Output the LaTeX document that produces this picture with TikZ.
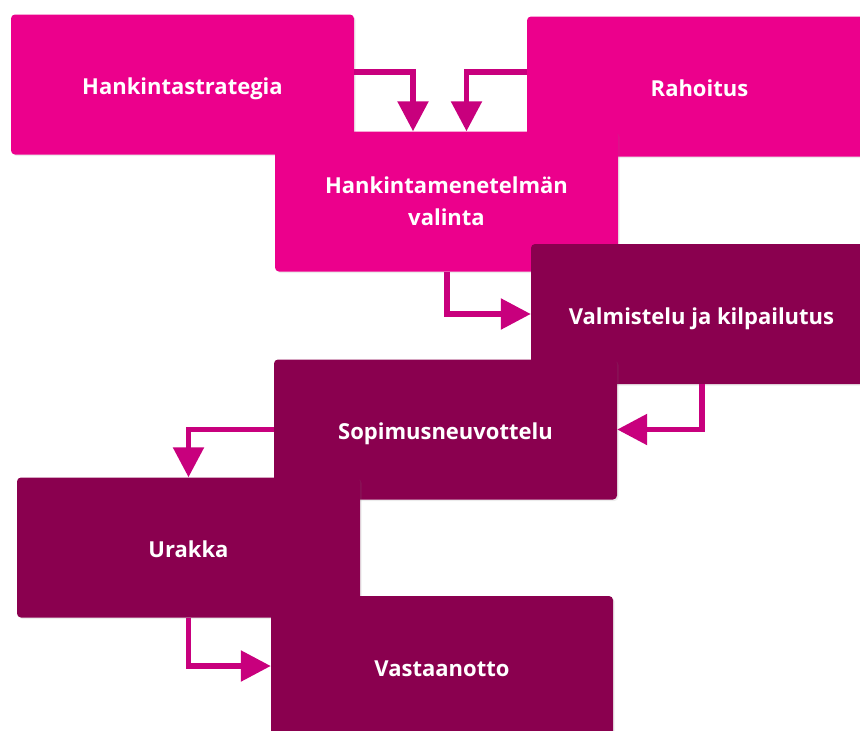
\documentclass[tikz,border=0pt]{standalone}
\usepackage{fontspec}
\setmainfont{Open Sans}
\usetikzlibrary{arrows.meta,shadows}
\definecolor{pinkbox}{HTML}{EC008C}
\definecolor{plumbox}{HTML}{8A004F}
\definecolor{arrowpink}{HTML}{C8007D}

\begin{document}
\begin{tikzpicture}[
  x=1pt, y=-1pt,
  font=\fontsize{22}{32}\selectfont\bfseries,
  box/.style={rounded corners=4pt, text=white, align=center, minimum height=140pt, drop shadow={opacity=0.15, shadow xshift=1.5pt, shadow yshift=-1.5pt}},
  oneline/.style={text height=21pt, text depth=1pt},
  light/.style={box, fill=pinkbox},
  dark/.style={box, fill=plumbox},
  arrow/.style={draw=arrowpink, line width=5.5pt, -{Triangle[width=30pt, length=30pt]}}
]
\useasboundingbox (0,0) rectangle (860,731);
\clip (0,0) rectangle (860,731);

% Planning
\node[light, oneline, minimum width=343pt] (strategia) at (182.5,84.5) {Hankintastrategia};
\node[light, oneline, minimum width=345pt] (rahoitus) at (699.5,86.5) {Rahoitus};
\node[light, minimum width=343pt] (valinta) at (446.5,201.5) {Hankintamenetelmän\\valinta};

% Procurement
\node[dark, oneline, minimum width=341pt] (valmistelu) at (701.5,314) {Valmistelu ja kilpailutus};
\node[dark, oneline, minimum width=343pt] (sopimus) at (445.5,429.5) {Sopimusneuvottelu};
\node[dark, oneline, minimum width=343pt] (urakka) at (188.5,547.5) {Urakka};
\node[dark, oneline, minimum width=342pt] (vastaanotto) at (442,666) {Vastaanotto};

% Arrows
\draw[arrow] ([yshift=12.5pt]strategia.east) -| ([xshift=-33.5pt]valinta.north);
\draw[arrow] ([yshift=14.5pt]rahoitus.west) -| ([xshift=20pt]valinta.north);
\draw[arrow] ([xshift=0.5pt]valinta.south) |- (valmistelu.west);
\draw[arrow] ([xshift=0.5pt]valmistelu.south) |- (sopimus.east);
\draw[arrow] (sopimus.west) -| (urakka.north);
\draw[arrow] (urakka.south) |- (vastaanotto.west);

\end{tikzpicture}
\end{document}
